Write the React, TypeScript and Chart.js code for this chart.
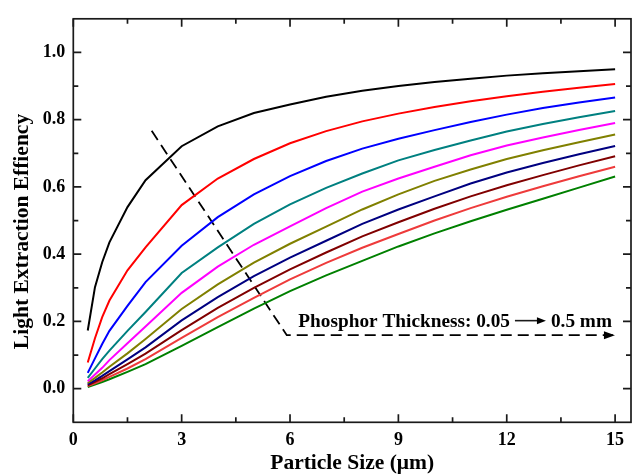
import React, { useEffect, useRef } from "react";
import { Chart, registerables } from "chart.js";

Chart.register(...registerables);

// Particle size (µm) sample positions
const particleSize = [0.4, 0.6, 0.8, 1, 1.5, 2, 3, 4, 5, 6, 7, 8, 9, 10, 11, 12, 13, 14, 15];

// Light extraction efficiency per phosphor thickness (0.05 -> 0.5 mm)
const thk005 = [0.173, 0.302, 0.376, 0.435, 0.54, 0.62, 0.721, 0.78, 0.82, 0.845, 0.868, 0.886, 0.9, 0.912, 0.922, 0.931, 0.938, 0.944, 0.95];
const thk010 = [0.078, 0.15, 0.213, 0.262, 0.352, 0.42, 0.546, 0.625, 0.683, 0.73, 0.766, 0.795, 0.818, 0.838, 0.855, 0.87, 0.883, 0.895, 0.906];
const thk015 = [0.047, 0.09, 0.133, 0.172, 0.246, 0.317, 0.425, 0.51, 0.578, 0.632, 0.677, 0.714, 0.743, 0.769, 0.793, 0.815, 0.835, 0.851, 0.866];
const thk020 = [0.032, 0.06, 0.088, 0.113, 0.172, 0.228, 0.344, 0.42, 0.49, 0.548, 0.597, 0.64, 0.679, 0.71, 0.738, 0.765, 0.787, 0.807, 0.826];
const thk025 = [0.022, 0.042, 0.062, 0.085, 0.135, 0.185, 0.285, 0.363, 0.428, 0.483, 0.537, 0.586, 0.625, 0.66, 0.694, 0.723, 0.747, 0.769, 0.79];
const thk030 = [0.017, 0.032, 0.048, 0.065, 0.105, 0.148, 0.237, 0.31, 0.375, 0.431, 0.482, 0.533, 0.578, 0.618, 0.652, 0.683, 0.709, 0.733, 0.756];
const thk035 = [0.013, 0.025, 0.038, 0.052, 0.087, 0.123, 0.203, 0.272, 0.335, 0.39, 0.44, 0.49, 0.533, 0.572, 0.61, 0.643, 0.671, 0.697, 0.722];
const thk040 = [0.01, 0.02, 0.031, 0.043, 0.073, 0.104, 0.174, 0.24, 0.3, 0.355, 0.405, 0.453, 0.495, 0.535, 0.572, 0.605, 0.635, 0.664, 0.691];
const thk045 = [0.008, 0.016, 0.025, 0.035, 0.06, 0.088, 0.151, 0.213, 0.27, 0.325, 0.374, 0.419, 0.46, 0.5, 0.537, 0.571, 0.602, 0.632, 0.66];
const thk050 = [0.005, 0.012, 0.02, 0.028, 0.05, 0.073, 0.127, 0.183, 0.238, 0.29, 0.337, 0.38, 0.423, 0.462, 0.498, 0.532, 0.565, 0.598, 0.631];

const seriesValues = [thk005, thk010, thk015, thk020, thk025, thk030, thk035, thk040, thk045, thk050];
const seriesNames = ["0.05 mm", "0.10 mm", "0.15 mm", "0.20 mm", "0.25 mm", "0.30 mm", "0.35 mm", "0.40 mm", "0.45 mm", "0.50 mm"];
const seriesColors = ["#000000", "#ff0000", "#0000ff", "#008080", "#ff00ff", "#808000", "#000080", "#800000", "#ee3b3b", "#008000"];

// Axis ticks
const xMajorTicks = [0, 3, 6, 9, 12, 15];
const xMinorTicks = [1.5, 4.5, 7.5, 10.5, 13.5];
const yMajorTicks = [0, 0.2, 0.4, 0.6, 0.8, 1.0];
const yMinorTicks = [0.1, 0.3, 0.5, 0.7, 0.9];

// Dashed annotation arrow path
const arrowPathX = [2.17, 5.91, 14.94];
const arrowPathY = [0.767, 0.159, 0.159];
const annotationTextPos = { x: 6.23, y: 0.183 };
const annotationLeft = "Phosphor Thickness: 0.05";
const annotationRight = "0.5 mm";

const xTitle = "Particle Size (\u03bcm)";
const yTitle = "Light Extraction Effiency";

const FONT = '"Liberation Serif", "Times New Roman", serif';

export default function App() {
  const canvasRef = useRef<HTMLCanvasElement | null>(null);

  useEffect(() => {
    const canvas = canvasRef.current;
    if (!canvas) return;

    const decor = {
      id: "decor",
      afterDraw(chart: any) {
        const ctx = chart.ctx as CanvasRenderingContext2D;
        const ca = chart.chartArea;
        const xs = chart.scales.x;
        const ys = chart.scales.y;
        ctx.save();
        ctx.strokeStyle = "#1a1a1a";
        ctx.lineWidth = 1.7;
        ctx.setLineDash([]);
        // frame
        ctx.strokeRect(ca.left, ca.top, ca.right - ca.left, ca.bottom - ca.top);
        // ticks (inward, all four sides)
        const drawX = (v: number, len: number) => {
          const p = xs.getPixelForValue(v);
          ctx.beginPath();
          ctx.moveTo(p, ca.bottom);
          ctx.lineTo(p, ca.bottom - len);
          ctx.moveTo(p, ca.top);
          ctx.lineTo(p, ca.top + len);
          ctx.stroke();
        };
        const drawY = (v: number, len: number) => {
          const p = ys.getPixelForValue(v);
          ctx.beginPath();
          ctx.moveTo(ca.left, p);
          ctx.lineTo(ca.left + len, p);
          ctx.moveTo(ca.right, p);
          ctx.lineTo(ca.right - len, p);
          ctx.stroke();
        };
        xMajorTicks.forEach((v) => drawX(v, 8));
        xMinorTicks.forEach((v) => drawX(v, 5));
        yMajorTicks.forEach((v) => drawY(v, 8));
        yMinorTicks.forEach((v) => drawY(v, 5));

        // arrow head at the end of dashed path
        const n = arrowPathX.length;
        const tipX = xs.getPixelForValue(arrowPathX[n - 1]);
        const tipY = ys.getPixelForValue(arrowPathY[n - 1]);
        ctx.fillStyle = "#000";
        ctx.beginPath();
        ctx.moveTo(tipX + 2, tipY);
        ctx.lineTo(tipX - 9, tipY - 4);
        ctx.lineTo(tipX - 9, tipY + 4);
        ctx.closePath();
        ctx.fill();

        // annotation text
        ctx.font = `bold 19.3px ${FONT}`;
        ctx.textBaseline = "alphabetic";
        ctx.textAlign = "left";
        const tx = xs.getPixelForValue(annotationTextPos.x);
        const ty = ys.getPixelForValue(annotationTextPos.y);
        ctx.fillText(annotationLeft, tx, ty);
        const w1 = ctx.measureText(annotationLeft).width;
        const ax0 = tx + w1 + 5;
        const ax1 = ax0 + 31;
        const ay = ty - 6.5;
        ctx.lineWidth = 1.6;
        ctx.beginPath();
        ctx.moveTo(ax0, ay);
        ctx.lineTo(ax1 - 6, ay);
        ctx.stroke();
        ctx.beginPath();
        ctx.moveTo(ax1, ay);
        ctx.lineTo(ax1 - 9, ay - 3.5);
        ctx.lineTo(ax1 - 9, ay + 3.5);
        ctx.closePath();
        ctx.fill();
        ctx.fillText(annotationRight, ax1 + 5, ty);

        // axis titles
        ctx.font = `bold 21.5px ${FONT}`;
        ctx.textAlign = "center";
        ctx.fillText(xTitle, (ca.left + ca.right) / 2, 469);
        ctx.save();
        ctx.translate(28, 231.5);
        ctx.rotate(-Math.PI / 2);
        ctx.fillText(yTitle, 0, 0);
        ctx.restore();

        ctx.restore();
      },
    };

    const datasets: any[] = seriesValues.map((vals, i) => ({
      label: seriesNames[i],
      data: particleSize.map((x, j) => ({ x, y: vals[j] })),
      borderColor: seriesColors[i],
      backgroundColor: seriesColors[i],
      borderWidth: 2,
      pointRadius: 0,
      tension: 0,
      fill: false,
    }));
    datasets.push({
      label: "direction",
      data: arrowPathX.map((x, j) => ({ x, y: arrowPathY[j] })),
      borderColor: "#000",
      borderWidth: 1.8,
      borderDash: [11, 6],
      pointRadius: 0,
      tension: 0,
      fill: false,
    });

    const tickFont = { family: FONT, size: 18, weight: "bold" as const };

    const chart = new Chart(canvas, {
      type: "line",
      data: { datasets },
      options: {
        responsive: false,
        animation: false,
        layout: { padding: { top: 12, right: 3, left: 0, bottom: 0 } },
        plugins: { legend: { display: false }, tooltip: { enabled: false } },
        scales: {
          x: {
            type: "linear",
            min: 0,
            max: 15.44,
            grid: { display: false, drawTicks: false },
            border: { display: false },
            ticks: {
              font: tickFont,
              color: "#000",
              padding: 7,
              maxRotation: 0,
              autoSkip: false,
              callback: (v: any) => String(v),
            },
            afterBuildTicks: (s: any) => {
              s.ticks = xMajorTicks.map((v) => ({ value: v }));
            },
            afterFit: (s: any) => {
              s.height = 53.7;
            },
          },
          y: {
            type: "linear",
            min: -0.1,
            max: 1.1,
            grid: { display: false, drawTicks: false },
            border: { display: false },
            ticks: {
              font: tickFont,
              color: "#000",
              padding: 8,
              autoSkip: false,
              callback: (v: any) => Number(v).toFixed(1),
            },
            afterBuildTicks: (s: any) => {
              s.ticks = yMajorTicks.map((v) => ({ value: v }));
            },
            afterFit: (s: any) => {
              s.width = 73.3;
            },
          },
        },
      } as any,
      plugins: [decor],
    });

    return () => chart.destroy();
  }, []);

  return (
    <div style={{ position: "fixed", left: 0, top: 0, width: 634, height: 476, background: "#fff" }}>
      <canvas ref={canvasRef} width={634} height={476} style={{ display: "block" }} />
    </div>
  );
}
